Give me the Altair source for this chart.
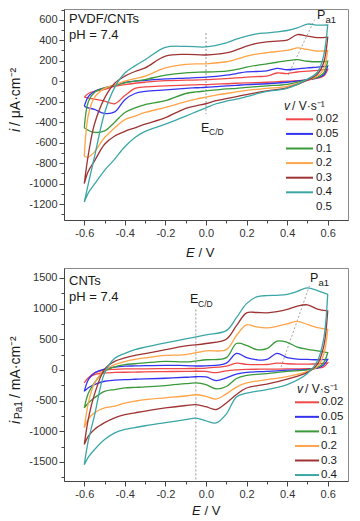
import altair as alt
import pandas as pd

RATES = ["0.02", "0.05", "0.1", "0.2", "0.3", "0.4"]
COLORS = ["#f04848", "#3434f0", "#3a9a3a", "#ffa448", "#9e3434", "#3ca6a6"]

E_FWD = [-0.6, -0.58, -0.55, -0.5, -0.45, -0.4, -0.35, -0.3, -0.2, -0.1, 0.0,
         0.1, 0.15, 0.2, 0.25, 0.3, 0.35, 0.4, 0.45, 0.5, 0.55, 0.6]
E_REV = [0.6, 0.58, 0.55, 0.5, 0.4, 0.3, 0.2, 0.15, 0.1, 0.05, 0.0, -0.05,
         -0.1, -0.2, -0.3, -0.35, -0.4, -0.45, -0.5, -0.55, -0.58, -0.6]

# ---- PVDF/CNTs (uA/cm2), forward (anodic) branches
PVDF_F_002 = [-155, -120, -100, -80, -50, -33, -20, -10, 5, 10, 15, 26, 32, 39, 45, 50, 80, 75, 90, 98, 105, 115]
PVDF_F_005 = [-245, -150, -100, -65, -40, -12, 0, 8, 22, 30, 39, 59, 75, 91, 95, 100, 125, 112, 120, 130, 138, 148]
PVDF_F_01 = [-455, -200, -110, -65, -40, -16, 0, 16, 59, 82, 90, 98, 115, 137, 155, 170, 185, 200, 210, 195, 190, 195]
PVDF_F_02 = [-735, -330, -160, -70, -35, 0, 25, 50, 130, 165, 170, 190, 215, 245, 265, 278, 290, 300, 325, 310, 295, 300]
PVDF_F_03 = [-1000, -716, -420, -165, -20, 50, 95, 130, 245, 262, 256, 276, 305, 342, 370, 385, 392, 400, 455, 440, 425, 430]
PVDF_F_04 = [-1180, -1000, -740, -310, -60, 80, 150, 210, 330, 340, 335, 375, 410, 440, 462, 472, 482, 495, 520, 558, 548, 550]
# reverse (cathodic) branches
PVDF_R_002 = [115, 50, 30, 12, 0, -10, -16, -20, -25, -28, -33, -35, -38, -45, -55, -70, -140, -220, -195, -175, -165, -155]
PVDF_R_005 = [148, 60, 35, 15, -10, -25, -33, -40, -45, -52, -59, -64, -70, -85, -100, -120, -180, -300, -315, -275, -260, -245]
PVDF_R_01 = [195, 80, 40, 15, -30, -45, -60, -70, -75, -85, -95, -105, -120, -190, -228, -260, -305, -400, -485, -500, -480, -455]
PVDF_R_02 = [300, 120, 50, 10, -50, -70, -90, -105, -120, -135, -155, -175, -200, -255, -305, -340, -375, -455, -550, -690, -740, -735]
PVDF_R_03 = [430, 180, 70, 10, -65, -95, -130, -150, -170, -190, -220, -240, -265, -355, -420, -455, -490, -535, -615, -780, -880, -1000]
PVDF_R_04 = [550, 250, 90, 20, -70, -100, -150, -175, -195, -220, -260, -300, -340, -420, -490, -550, -640, -760, -870, -1005, -1090, -1180]

# ---- CNTs, forward branches
CNT_F_002 = [-210, -130, -50, -5, 10, 16, 17, 18, 20, 22, 30, 60, 110, 90, 85, 88, 110, 100, 95, 95, 100, 115]
CNT_F_005 = [-350, -160, -50, 15, 45, 60, 65, 70, 75, 70, 65, 110, 270, 200, 165, 170, 270, 200, 175, 170, 165, 170]
CNT_F_01 = [-620, -380, -210, -20, 50, 85, 100, 115, 140, 130, 165, 200, 430, 400, 330, 345, 470, 450, 370, 335, 310, 280]
CNT_F_02 = [-945, -540, -220, -5, 85, 135, 170, 195, 235, 250, 310, 330, 560, 735, 700, 685, 710, 750, 790, 740, 690, 660]
CNT_F_03 = [-1215, -800, -400, 10, 140, 195, 235, 265, 330, 390, 430, 500, 720, 930, 935, 930, 950, 985, 1040, 1060, 990, 960]
CNT_F_04 = [-1545, -1150, -750, -50, 190, 270, 330, 370, 440, 505, 570, 640, 850, 1080, 1190, 1210, 1215, 1230, 1280, 1335, 1290, 1230]
# reverse branches
CNT_R_002 = [115, 50, 30, 20, 16, 12, 8, 0, -15, -45, -25, -22, -24, -27, -32, -35, -38, -42, -49, -76, -130, -210]
CNT_R_005 = [170, 80, 30, 10, -5, -25, -40, -70, -130, -175, -115, -112, -120, -136, -147, -152, -158, -168, -185, -240, -290, -350]
CNT_R_01 = [280, 120, 40, 0, -25, -60, -90, -140, -270, -310, -240, -212, -225, -255, -278, -285, -293, -320, -350, -455, -540, -620]
CNT_R_02 = [660, 250, 60, -25, -110, -160, -212, -280, -390, -475, -430, -405, -425, -455, -485, -510, -540, -590, -620, -700, -800, -945]
CNT_R_03 = [960, 380, 100, -40, -150, -230, -295, -400, -540, -645, -600, -565, -580, -620, -670, -700, -730, -780, -860, -970, -1080, -1215]
CNT_R_04 = [1230, 500, 150, -60, -240, -320, -380, -440, -720, -865, -830, -785, -810, -860, -910, -940, -970, -1025, -1135, -1300, -1420, -1545]

# reference markers
ECD_TOP = {"E": [0.0], "y1": [470], "y2": [-320]}
ECD_BOT = {"E": [-0.05], "y1": [985], "y2": [-1810]}
PA1_TOP = {"E": [0.405, 0.535], "I": [60, 600]}
PA1_BOT = {"E": [0.37, 0.51], "I": [50, 1370]}

X_MAJOR = [-0.6, -0.4, -0.2, 0.0, 0.2, 0.4, 0.6]
X_MINOR = [-0.5, -0.3, -0.1, 0.1, 0.3, 0.5]
Y1_MAJOR = [-1200, -1000, -800, -600, -400, -200, 0, 200, 400, 600]
Y1_MINOR = [-1300, -1100, -900, -700, -500, -300, -100, 100, 300, 500, 700]
Y2_MAJOR = [-1500, -1000, -500, 0, 500, 1000, 1500]
Y2_MINOR = [-1750, -1250, -750, -250, 250, 750, 1250]

FONT = "Liberation Sans"
W, H1, H2 = 284, 211, 213


def cv_frame(fwd, rev):
    rows = []
    for rate, f, r in zip(RATES, fwd, rev):
        k = 0
        for e, v in zip(E_FWD, f):
            rows.append({"rate": rate, "idx": k, "E": e, "I": v})
            k += 1
        for e, v in zip(E_REV, r):
            rows.append({"rate": rate, "idx": k, "E": e, "I": v})
            k += 1
    return pd.DataFrame(rows)


ONE = pd.DataFrame({"a": [0]})


def txt(x, y, s, size=12, style="normal", angle=0, align="left", baseline="middle"):
    return alt.Chart(ONE).mark_text(
        font=FONT, fontSize=size, fontStyle=style, angle=angle, align=align,
        baseline=baseline, color="#1a1a1a"
    ).encode(x=alt.value(x), y=alt.value(y), text=alt.value(s))


def panel(df, ydom, ymaj, ymin, height, ecd, pa1, ann):
    xs = alt.Scale(domain=[-0.7, 0.7], nice=False, zero=False)
    ys = alt.Scale(domain=ydom, nice=False, zero=False)
    lab_x = "replace(format(datum.value, '.1f'), '\u2212', '-')"
    lab_y = "replace(format(datum.value, 'd'), '\u2212', '-')"
    minor = alt.Chart(df).mark_point(opacity=0).encode(
        x=alt.X("E:Q", scale=xs, axis=alt.Axis(values=X_MINOR, labels=False, domain=False,
                                                 tickSize=3, title=None, grid=False, orient="bottom")),
        y=alt.Y("I:Q", scale=ys, axis=alt.Axis(values=ymin, labels=False, domain=False,
                                                 tickSize=3, title=None, grid=False, orient="left")),
    )
    lines = alt.Chart(df).mark_line(interpolate="catmull-rom", strokeWidth=1.3).encode(
        x=alt.X("E:Q", scale=xs, axis=alt.Axis(values=X_MAJOR, labelExpr=lab_x, title=None,
                                                 tickSize=5, grid=False, orient="bottom")),
        y=alt.Y("I:Q", scale=ys, axis=alt.Axis(values=ymaj, labelExpr=lab_y, title=None,
                                                 tickSize=5, grid=False, orient="left")),
        color=alt.Color("rate:N", scale=alt.Scale(domain=RATES, range=COLORS), legend=None),
        order="idx:Q",
    )
    ecd_rule = alt.Chart(pd.DataFrame(ecd)).mark_rule(
        strokeDash=[2, 2], color="#888", strokeWidth=0.9
    ).encode(
        x=alt.X("E:Q", scale=xs, axis=None),
        y=alt.Y("y1:Q", scale=ys, axis=None),
        y2="y2:Q",
    )
    pa1_line = alt.Chart(pd.DataFrame(pa1)).mark_line(
        strokeDash=[2, 2], color="#999", strokeWidth=0.9
    ).encode(
        x=alt.X("E:Q", scale=xs, axis=None),
        y=alt.Y("I:Q", scale=ys, axis=None),
    )
    return alt.layer(minor, ecd_rule, pa1_line, lines, *ann).resolve_axis(
        x="independent", y="independent"
    ).properties(width=W, height=height)


def legend(x1, x2, xt, y0, dy, extra=None):
    out = []
    for k, (r, c) in enumerate(zip(RATES, COLORS)):
        y = y0 + k * dy
        out.append(alt.Chart(ONE).mark_rule(color=c, strokeWidth=2).encode(
            x=alt.value(x1), x2=alt.value(x2), y=alt.value(y)))
        out.append(txt(xt, y, r, size=11.5))
    if extra is not None:
        out.append(txt(xt, y0 + len(RATES) * dy, extra, size=11.5))
    return out


top_df = cv_frame([PVDF_F_002, PVDF_F_005, PVDF_F_01, PVDF_F_02, PVDF_F_03, PVDF_F_04],
                  [PVDF_R_002, PVDF_R_005, PVDF_R_01, PVDF_R_02, PVDF_R_03, PVDF_R_04])
bot_df = cv_frame([CNT_F_002, CNT_F_005, CNT_F_01, CNT_F_02, CNT_F_03, CNT_F_04],
                  [CNT_R_002, CNT_R_005, CNT_R_01, CNT_R_02, CNT_R_03, CNT_R_04])

top_ann = [
    txt(5, 10, "PVDF/CNTs", 13), txt(5, 25.5, "pH = 7.4", 13),
    txt(253, 6, "P", 12.5), txt(261.5, 11, "a1", 9.5),
    txt(137, 118.5, "E", 12.5), txt(145, 123, "C/D", 8.5),
    txt(220, 97, "v", 12, "italic"), txt(228, 97, "/ V·s⁻¹", 12),
    txt(122, 244, "E", 13, "italic"), txt(134.5, 244, "/ V", 13),
    txt(-48, 123, "i", 14, "italic", angle=270), txt(-48, 117, "/ μA·cm⁻²", 14, angle=270),
] + legend(222, 249, 252, 110.3, 14.6, extra="0.5")

bot_ann = [
    txt(5, 13, "CNTs", 13), txt(5, 28.5, "pH = 7.4", 13),
    txt(246, 10, "P", 12.5), txt(254.5, 15, "a1", 9.5),
    txt(126, 31, "E", 12.5), txt(134, 36, "C/D", 8.5),
    txt(233, 121, "v", 12, "italic"), txt(241, 121, "/ V·s⁻¹", 12),
    txt(128, 243, "E", 13, "italic"), txt(140.5, 243, "/ V", 13),
    txt(-48, 156, "i", 14, "italic", angle=270), txt(-45, 151, "Pa1", 10, angle=270),
    txt(-48, 130, "/ mA·cm⁻²", 14, angle=270),
] + legend(231, 255, 257, 134.3, 14.55)

top = panel(top_df, [-1355, 705], Y1_MAJOR, Y1_MINOR, H1, ECD_TOP, PA1_TOP, top_ann)
bot = panel(bot_df, [-1810, 1660], Y2_MAJOR, Y2_MINOR, H2, ECD_BOT, PA1_BOT, bot_ann)

chart = alt.vconcat(top, bot, spacing=6).properties(padding=0).configure_view(
    stroke="#8a8a8a", strokeWidth=1
).configure_axis(
    labelFont=FONT, labelFontSize=11, labelColor="#333", domainColor="#444",
    tickColor="#444", labelPadding=2
)

chart.save("out.html", embed_options={"renderer": "svg", "actions": False})
